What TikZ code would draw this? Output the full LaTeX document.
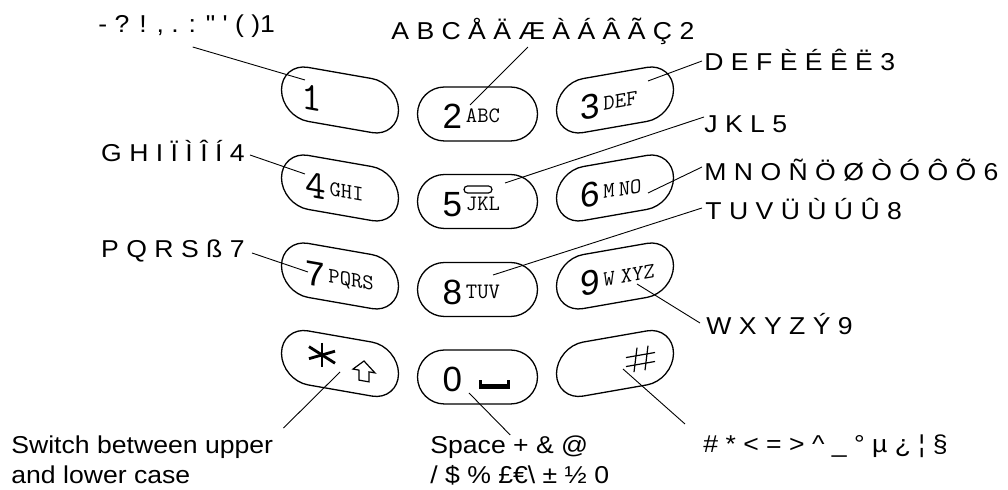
\documentclass[tikz,border=0pt]{standalone}
\usepackage{fontspec}
\usepackage{tikz}
\usetikzlibrary{positioning, calc}
\newfontfamily\labfont{Liberation Sans}[FakeStretch=1.09]
\newfontfamily\digfont{Liberation Sans}
\newcommand{\dig}[1]{{\digfont\fontsize{17.5pt}{20pt}\selectfont #1}}
\newcommand{\tdig}[1]{{\ttfamily\fontsize{20pt}{22pt}\selectfont #1}}
\newcommand{\letters}[1]{\hspace{2pt}\raisebox{3pt}{\ttfamily\fontsize{11pt}{12pt}\selectfont #1}}
\newcommand{\keytext}[1]{\makebox[35pt][l]{\rule{0pt}{15pt}#1}}

\begin{document}
\begin{tikzpicture}[x=0.5pt, y=-0.5pt,
		keycap/.style={
				rectangle, draw, line width=0.65pt, minimum width=58.5pt,
				minimum height=27pt, rounded corners=13.5pt, inner sep=0pt
			},
		leftkey/.style={keycap, yslant=-0.175},
		rightkey/.style={keycap, yslant=0.175},
		midkey/.style={keycap, minimum width=60pt},
		chars/.style={font=\labfont\fontsize{12.2pt}{15pt}\selectfont, inner sep=0pt},
		leader/.style={line width=0.45pt}
	]
	\useasboundingbox (0,0) rectangle (1008,490);

	% Left column of keys
	\node[leftkey] (k1) at (340,100) {\keytext{\hspace{-2pt}\tdig{1}}};
	\node[leftkey] (k4) at (340,188) {\keytext{\tdig{4}\letters{GHI}}};
	\node[leftkey] (k7) at (340,276) {\keytext{\dig{7}\letters{PQRS}}};
	\node[leftkey] (kstar) at (340,363.5) {};
	% Middle column of keys
	\node[midkey] (k2) at (477.5,114) {\keytext{\dig{2}\letters{ABC}}};
	\node[midkey] (k5) at (477.5,201.5) {\keytext{\dig{5}\letters{JKL}}};
	\node[midkey] (k8) at (477.5,289.5) {\keytext{\dig{8}\letters{TUV}}};
	\node[midkey] (k0) at (477.5,377) {\keytext{\dig{0}}};
	% Right column of keys
	\node[rightkey] (k3) at (615,100) {\keytext{\dig{3}\letters{DEF}}};
	\node[rightkey] (k6) at (615,188) {\keytext{\dig{6}\letters{M\hspace{2pt}NO}}};
	\node[rightkey] (k9) at (615,276) {\keytext{\dig{9}\letters{W\hspace{3pt}XYZ}}};
	\node[rightkey] (khash) at (615,363.5) {};

	% Symbols drawn on the keys
	\begin{scope}[shift={(kstar.center)}, yslant=-0.175]
		\draw[line width=1.4pt] (-18,-17.4) -- (-18,6.6);
		\draw[line width=1.4pt] (-31,-11.4) -- (-5,0.6);
		\draw[line width=1.4pt] (-31,0.6) -- (-5,-11.4);
		\draw[line width=0.6pt] (24,-6.7) -- (35,3.3) -- (29,3.3) -- (29,13.3)
		-- (19,13.3) -- (19,3.3) -- (13,3.3) -- cycle;
	\end{scope}
	\begin{scope}[shift={(khash.center)}, yslant=0.175, line width=0.6pt]
		\draw (22,-12) -- (19,12);
		\draw (33,-12) -- (30,12);
		\draw (11,-4) -- (40,-4);
		\draw (11,5) -- (40,5);
	\end{scope}
	\begin{scope}[shift={(k0.center)}]
		\fill (1.5,3) rectangle (4.5,12.5);
		\fill (29.5,3) rectangle (32.5,12.5);
		\fill (1.5,7.5) rectangle (32.5,12.5);
	\end{scope}
	\draw[line width=0.6pt, rounded corners=1.75pt] ($(k5.center)+(-13.5,-15.5)$) rectangle ++(28,7);

	% Character lists
	\node[chars, anchor=base west] (l1) at (98,33) {- ? ! , . : " \symbol{39} ( )1};
	\node[chars, anchor=base west] (l2) at (391,40) {A B C Å Ä Æ À Á Â Ã Ç 2};
	\node[chars, anchor=base west] (l3) at (704,71) {D E F È É Ê Ë 3};
	\node[chars, anchor=base west] (l5) at (704,133) {J K L 5};
	\node[chars, anchor=base west] (l6) at (704,181) {M N O Ñ Ö Ø Ò Ó Ô Õ 6};
	\node[chars, anchor=base west] (l8) at (705,219.5) {T U V Ü Ù Ú Û 8};
	\node[chars, anchor=base west] (l9) at (706,335) {W X Y Z Ý 9};
	\node[chars, anchor=base east] (l4) at (245,162) {G H I Ï Ì Î Í 4};
	\node[chars, anchor=base east] (l7) at (245,258) {P Q R S ß 7};
	\node[chars, anchor=north west, align=left] (lcase) at (11,435) {Switch between upper\\and lower case};
	\node[chars, anchor=north west, align=left] (lspace) at (430,435) {Space + \& @\\/ \$ \% £€\textbackslash{} ± ½ 0};
	\node[chars, anchor=base west] (lhash) at (703,453) {\# * < = > \textasciicircum{} \_ ° µ ¿ ¦ §};

	% Leader ends inside the keys
	\coordinate (t1) at ($(k1.center)+(-35,-20)$);
	\coordinate (t2) at ($(k2.center)+(-7.5,-9)$);
	\coordinate (t3) at ($(k3.center)+(33,-19)$);
	\coordinate (t4) at ($(k4.center)+(-35,-14)$);
	\coordinate (t5) at ($(k5.center)+(27.5,-18.5)$);
	\coordinate (t6) at ($(k6.center)+(33,5)$);
	\coordinate (t7) at ($(k7.center)+(-32,-4)$);
	\coordinate (t8) at ($(k8.center)+(15.5,-14.5)$);
	\coordinate (t9) at ($(k9.center)+(22,8)$);
	\coordinate (tstar) at ($(kstar.center)+(0,8.5)$);
	\coordinate (t0) at ($(k0.center)+(-8.5,16)$);
	\coordinate (thash) at ($(khash.center)+(8,5.5)$);

	% Leaders
	\draw[leader] ([xshift=3pt,yshift=-7pt]l1.base) -- (t1);
	\draw[leader] ([xshift=-7.5pt,yshift=-3.5pt]l2.base) -- (t2);
	\draw[leader] ([xshift=-1pt,yshift=5pt]l3.base west) -- (t3);
	\draw[leader] ([xshift=2.5pt,yshift=3.5pt]l4.base east) -- (t4);
	\draw[leader] ([yshift=8pt]l5.base west) -- (t5);
	\draw[leader] ([xshift=-1pt,yshift=7pt]l6.base west) -- (t6);
	\draw[leader] ([xshift=3.5pt,yshift=2.5pt]l7.base east) -- (t7);
	\draw[leader] ([xshift=-1.5pt,yshift=5.75pt]l8.base west) -- (t8);
	\draw[leader] ([xshift=-3pt,yshift=6pt]l9.base west) -- (t9);
	\draw[leader] ([xshift=5pt,yshift=3.5pt]lcase.north east) -- (tstar);
	\draw[leader] ([xshift=-4.75pt]lspace.north) -- (t0);
	\draw[leader] ([xshift=-9pt,yshift=14.5pt]lhash.base west) -- (thash);
\end{tikzpicture}
\end{document}
